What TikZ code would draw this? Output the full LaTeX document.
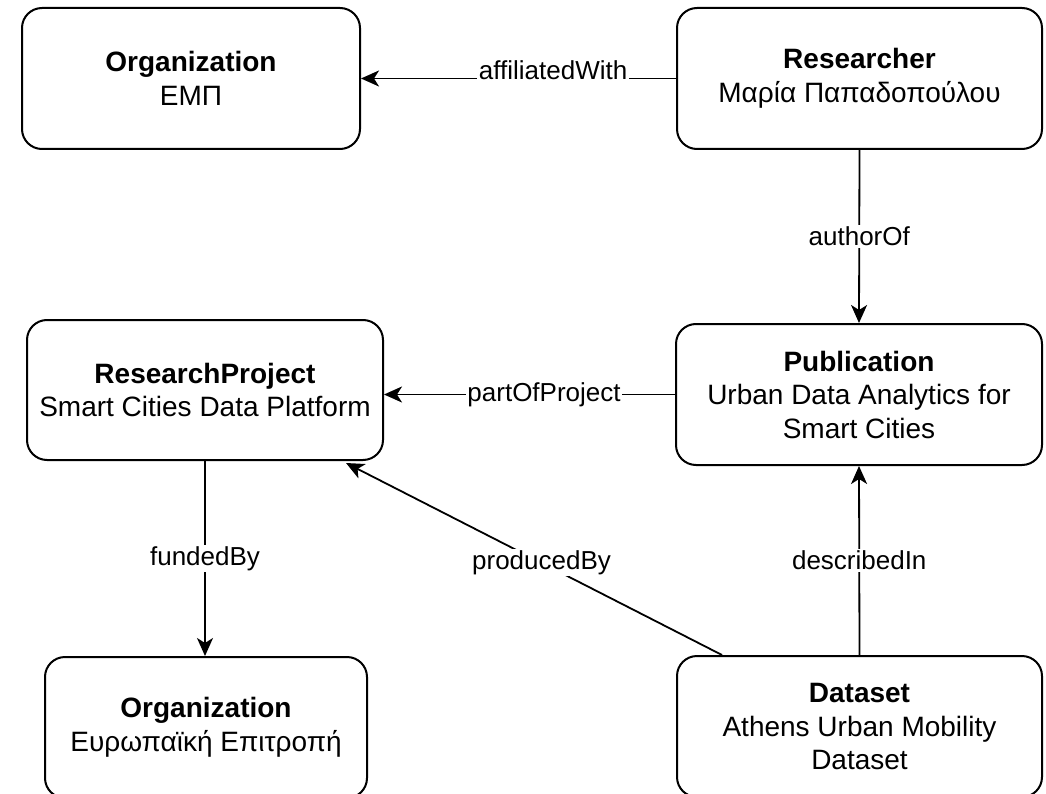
\documentclass[tikz,border=0pt]{standalone}
\usepackage{fontspec}
\setmainfont{Liberation Sans}
\usetikzlibrary{arrows.meta}

\tikzset{
  entity/.style={draw, line width=2pt, rounded corners=20pt, minimum height=141pt,
    align=center, inner sep=0pt, font=\fontsize{28}{33.5}\selectfont},
  link/.style={draw, line width=1.8pt,
    -{Stealth[length=18pt,width=16pt,inset=5pt]}},
  lbl/.style={fill=white, inner sep=1.5pt, font=\fontsize{26}{30}\selectfont}
}

\begin{document}
\begin{tikzpicture}[x=1pt, y=-1pt]
  \path[use as bounding box, clip] (0,0) rectangle (1046,794);

  % entities
  \node[entity, minimum width=338pt] (org1) at (191,78.5)
    {\textbf{Organization}\\ΕΜΠ};
  \node[entity, minimum width=365pt] (res) at (859.5,78.5)
    {\textbf{Researcher}\\Μαρία Παπαδοπούλου};
  \node[entity, minimum width=356pt, minimum height=140pt] (rp) at (205,390)
    {\textbf{ResearchProject}\\Smart Cities Data Platform};
  \node[entity, minimum width=366pt] (pub) at (859,394.5)
    {\textbf{Publication}\\Urban Data Analytics for\\Smart Cities};
  \node[entity, minimum width=322pt] (org2) at (206,727.5)
    {\textbf{Organization}\\Ευρωπαϊκή Επιτροπή};
  \node[entity, minimum width=365pt] (ds) at (859.5,726.5)
    {\textbf{Dataset}\\Athens Urban Mobility\\Dataset};

  % relations
  \draw[link] (res.west) -- node[lbl, pos=0.39, anchor=base, yshift=-1pt] {affiliatedWith} (org1.east);
  \draw[link] (res.south) -- node[lbl] {authorOf} (pub.north);
  \draw[link] (pub.west) -- node[lbl, pos=0.45] {partOfProject} (pub.west -| rp.east);
  \draw[link] ([xshift=46pt]ds.north west) -- node[lbl, pos=0.48] {producedBy} ([xshift=-38pt,yshift=-2pt]rp.south east);
  \draw[link] (ds.north) -- node[lbl] {describedIn} (pub.south);
  \draw[link] (rp.south) -- node[lbl] {fundedBy} (rp.south |- org2.north);
\end{tikzpicture}
\end{document}
